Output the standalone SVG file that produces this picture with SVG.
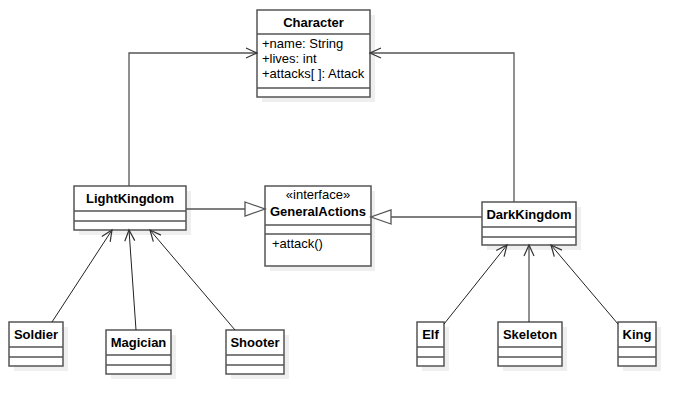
<svg xmlns="http://www.w3.org/2000/svg" width="695" height="414" viewBox="0 0 695 414">
<style>
.box{fill:#fff;stroke:#555;stroke-width:1.5}
.sh{fill:#efefef}
.div{stroke:#555;stroke-width:1.5}
.t{font-family:"Liberation Sans",Arial,sans-serif;font-size:13px;fill:#000}
.b{font-weight:bold;text-anchor:middle}
.c{fill:none;stroke:#555;stroke-width:1.3}
.c2{fill:none;stroke:#222;stroke-width:1}
</style>
<defs>
<marker id="open" markerUnits="userSpaceOnUse" markerWidth="12" markerHeight="12" refX="11" refY="5" orient="auto" overflow="visible">
<path d="M0,0 L11,5 L0,10" fill="none" stroke="#333" stroke-width="1.2"/>
</marker>
<marker id="tri" markerUnits="userSpaceOnUse" markerWidth="22" markerHeight="16" refX="20" refY="7" orient="auto" overflow="visible">
<path d="M0,0 L20,7 L0,14 Z" fill="#fff" stroke="#555" stroke-width="1.3"/>
</marker>
</defs>
<rect width="695" height="414" fill="#fff"/>
<g id="Character">
<rect class="sh" x="262" y="15" width="113" height="87"/>
<rect class="box" x="257" y="10" width="113" height="87"/>
<line class="div" x1="257" y1="34" x2="370" y2="34"/>
<line class="div" x1="257" y1="88" x2="370" y2="88"/>
<text class="t b" x="313.5" y="27">Character</text>
<text class="t" x="262" y="48">+name: String</text>
<text class="t" x="262" y="63">+lives: int</text>
<text class="t" x="262" y="78">+attacks[ ]: Attack</text>
</g>
<g id="LightKingdom">
<rect class="sh" x="79" y="191" width="112" height="44"/>
<rect class="box" x="74" y="186" width="112" height="44"/>
<line class="div" x1="74" y1="211" x2="186" y2="211"/>
<line class="div" x1="74" y1="221" x2="186" y2="221"/>
<text class="t b" x="130" y="203">LightKingdom</text>
</g>
<g id="GeneralActions">
<rect class="sh" x="270" y="191" width="105" height="80"/>
<rect class="box" x="265" y="186" width="106" height="80"/>
<line class="div" x1="265" y1="225" x2="371" y2="225"/>
<line class="div" x1="265" y1="234" x2="371" y2="234"/>
<text class="t" x="318" y="199" text-anchor="middle">«interface»</text>
<text class="t b" x="318" y="216">GeneralActions</text>
<text class="t" x="272" y="248">+attack()</text>
</g>
<g id="DarkKingdom">
<rect class="sh" x="487" y="207" width="94" height="43"/>
<rect class="box" x="482" y="202" width="94" height="43"/>
<line class="div" x1="482" y1="227" x2="576" y2="227"/>
<line class="div" x1="482" y1="237" x2="576" y2="237"/>
<text class="t b" x="529" y="219">DarkKingdom</text>
</g>
<g id="Soldier">
<rect class="sh" x="14" y="327" width="54" height="44"/>
<rect class="box" x="9" y="322" width="54" height="44"/>
<line class="div" x1="9" y1="347" x2="63" y2="347"/>
<line class="div" x1="9" y1="357" x2="63" y2="357"/>
<text class="t b" x="36" y="339">Soldier</text>
</g>
<g id="Magician">
<rect class="sh" x="111" y="335" width="65" height="44"/>
<rect class="box" x="106" y="330" width="65" height="44"/>
<line class="div" x1="106" y1="355" x2="171" y2="355"/>
<line class="div" x1="106" y1="365" x2="171" y2="365"/>
<text class="t b" x="138.5" y="347">Magician</text>
</g>
<g id="Shooter">
<rect class="sh" x="231" y="335" width="58" height="44"/>
<rect class="box" x="226" y="330" width="58" height="44"/>
<line class="div" x1="226" y1="355" x2="284" y2="355"/>
<line class="div" x1="226" y1="365" x2="284" y2="365"/>
<text class="t b" x="255" y="347">Shooter</text>
</g>
<g id="Elf">
<rect class="sh" x="422" y="327" width="27" height="44"/>
<rect class="box" x="417" y="322" width="27" height="44"/>
<line class="div" x1="417" y1="347" x2="444" y2="347"/>
<line class="div" x1="417" y1="357" x2="444" y2="357"/>
<text class="t b" x="430.5" y="339">Elf</text>
</g>
<g id="Skeleton">
<rect class="sh" x="503" y="327" width="64" height="44"/>
<rect class="box" x="498" y="322" width="64" height="44"/>
<line class="div" x1="498" y1="347" x2="562" y2="347"/>
<line class="div" x1="498" y1="357" x2="562" y2="357"/>
<text class="t b" x="530" y="339">Skeleton</text>
</g>
<g id="King">
<rect class="sh" x="623" y="327" width="38" height="44"/>
<rect class="box" x="618" y="322" width="38" height="44"/>
<line class="div" x1="618" y1="347" x2="656" y2="347"/>
<line class="div" x1="618" y1="357" x2="656" y2="357"/>
<text class="t b" x="637" y="339">King</text>
</g>
<g id="connectors">
<path class="c" d="M129,186 V53 H257" marker-end="url(#open)"/>
<path class="c" d="M514,202 V53 H370" marker-end="url(#open)"/>
<path class="c" d="M186,209 H265" marker-end="url(#tri)"/>
<path class="c" d="M482,217 H371" marker-end="url(#tri)"/>
<path class="c2" d="M52,322 L112,230" marker-end="url(#open)"/>
<path class="c2" d="M136,330 L129,230" marker-end="url(#open)"/>
<path class="c2" d="M235,330 L150,230" marker-end="url(#open)"/>
<path class="c2" d="M444,324 L507,245" marker-end="url(#open)"/>
<path class="c2" d="M529,322 L529,245" marker-end="url(#open)"/>
<path class="c2" d="M618,324 L551,245" marker-end="url(#open)"/>
</g>
</svg>
